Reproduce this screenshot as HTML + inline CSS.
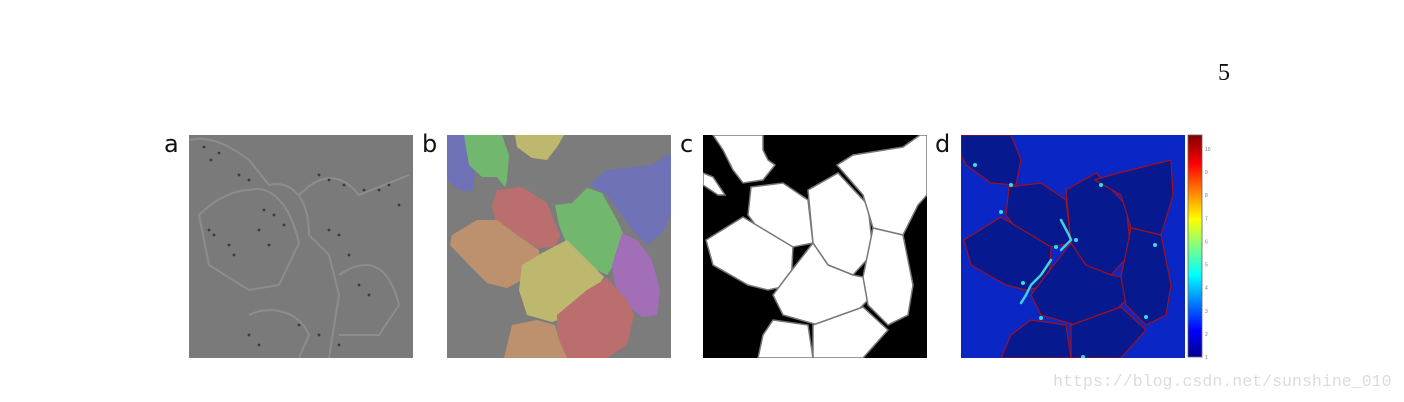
<!DOCTYPE html>
<html><head><meta charset="utf-8"><style>
body{margin:0;background:#fff;width:1404px;height:402px;overflow:hidden;position:relative;font-family:"Liberation Sans",sans-serif}
.lbl{position:absolute;font-size:24px;color:#111;font-family:"DejaVu Sans","Liberation Sans",sans-serif}
svg{position:absolute}
</style></head><body>
<div class="lbl" style="left:164px;top:130px">a</div>
<div class="lbl" style="left:422px;top:130px">b</div>
<div class="lbl" style="left:680px;top:130px">c</div>
<div class="lbl" style="left:935px;top:130px">d</div>
<div style="position:absolute;left:1218px;top:60px;font-family:'Liberation Serif',serif;font-size:24px;color:#111">5</div>
<div style="position:absolute;left:1053px;top:372px;font-family:'Liberation Mono',monospace;font-size:16.6px;color:#dcdcdc">https://blog.csdn.net/sunshine_010</div>

<svg style="left:189px;top:135px" width="224" height="223" viewBox="0 0 224 223">
<rect width="224" height="223" fill="#7a7a7a"/>
<g fill="none" stroke="#929292" stroke-width="2" opacity="0.8">
<path d="M0,5 C20,0 40,10 60,25 L80,50 C100,45 120,60 120,100 L140,120 150,160 140,223"/>
<path d="M10,80 C30,60 50,55 60,55 C80,50 100,65 110,108 L90,150 60,155 20,130Z"/>
<path d="M110,60 C130,40 150,35 170,60 L220,40"/>
<path d="M150,140 C180,120 200,130 210,170 L190,200 150,200"/>
<path d="M60,180 C80,170 110,175 120,200 L110,223"/>
</g>
<g fill="#3a3a3a" id="dots"></g>
</svg>

<svg style="left:447px;top:135px" width="224" height="223" viewBox="0 0 224 223">
<rect width="224" height="223" fill="#7c7c7c"/>
<g opacity="0.72">
<polygon fill="#6b6fcf" points="0,0 17,0 28,40 25,57 12,55 0,45"/>
<polygon fill="#6fcf6a" points="17,0 55,0 62,20 60,45 58,52 50,42 35,42 22,30"/>
<polygon fill="#d6d06a" points="68,0 117,0 110,12 100,25 85,23 70,12"/>
<polygon fill="#6b6fcf" points="142,50 160,35 205,30 222,18 224,22 224,80 215,98 200,110 185,95 175,80 160,60"/>
<polygon fill="#d26a6a" points="50,55 75,52 100,68 113,100 108,112 90,113 70,100 48,85 45,70"/>
<polygon fill="#6fcf6a" points="108,70 125,68 140,53 155,58 170,85 176,98 170,125 160,140 140,130 120,110 112,90"/>
<polygon fill="#d69a6a" points="5,100 30,85 50,85 70,100 92,115 93,130 75,145 60,153 40,148 20,128 3,110"/>
<polygon fill="#b06acf" points="175,98 190,105 205,125 213,155 210,180 195,182 180,170 168,150 165,130"/>
<polygon fill="#d6d06a" points="75,130 95,118 120,105 140,125 157,142 145,160 125,180 105,187 80,180 72,155"/>
<polygon fill="#d26a6a" points="110,180 140,155 160,143 180,165 187,180 180,210 160,223 115,223 110,200"/>
<polygon fill="#d69a6a" points="65,190 90,185 108,190 112,205 120,223 57,223"/>
</g>
</svg>

<svg style="left:703px;top:135px" width="224" height="223" viewBox="0 0 224 223">
<rect width="224" height="223" fill="#000"/>
<g fill="#fff" stroke="#777" stroke-width="1.5">
<polygon points="10,0 60,0 60,15 65,25 72,30 60,45 40,48 30,35 20,15"/>
<polygon points="0,38 10,42 22,60 15,60 0,50"/>
<polygon points="48,52 80,48 105,65 110,108 90,112 60,100 45,80"/>
<polygon points="3,105 40,82 90,112 88,150 65,155 45,150 10,130"/>
<polygon points="105,55 135,38 165,70 170,118 150,140 125,130 110,108"/>
<polygon points="134,30 150,20 200,12 217,0 224,0 224,60 215,70 200,100 170,93 160,60"/>
<polygon points="110,108 125,130 150,140 160,142 170,160 140,190 115,190 80,180 70,160 85,140"/>
<polygon points="170,93 200,100 210,150 205,180 185,190 165,170 160,142"/>
<polygon points="70,185 105,190 110,223 55,223 60,200"/>
<polygon points="110,190 160,172 185,195 160,223 110,223"/>
</g>
</svg>

<svg style="left:961px;top:135px" width="224" height="223" viewBox="0 0 224 223">
<rect width="224" height="223" fill="#0a26c4"/>
<g fill="#07198e" stroke="#a01020" stroke-width="1.2">
<polygon points="0,0 50,0 60,25 55,50 30,48 5,30 0,20"/>
<polygon points="48,52 80,48 105,65 110,108 90,112 60,100 45,80"/>
<polygon points="3,105 40,82 90,112 88,150 65,155 45,150 10,130"/>
<polygon points="105,55 135,38 165,70 170,118 150,140 125,130 110,108"/>
<polygon points="134,45 150,40 190,30 210,25 212,60 200,100 170,93 160,60"/>
<polygon points="110,108 125,130 150,140 160,142 170,160 140,190 115,190 80,180 70,160 85,140"/>
<polygon points="170,93 200,100 210,150 205,180 185,190 165,170 160,142"/>
<polygon points="70,185 105,190 110,223 40,223 50,200"/>
<polygon points="110,190 160,172 185,195 160,223 110,223"/>
</g>
<g fill="none" stroke="#40d0e0" stroke-width="2.5" stroke-linecap="round">
<polyline points="100,85 108,100 110,105 100,115"/>
<polyline points="90,125 80,140 70,150 65,160 60,168"/>
</g>
<g fill="#30e0e0">
<circle cx="14" cy="30" r="2"/><circle cx="50" cy="50" r="2"/><circle cx="40" cy="77" r="2"/>
<circle cx="95" cy="112" r="2"/><circle cx="115" cy="105" r="2"/><circle cx="140" cy="50" r="2"/>
<circle cx="194" cy="110" r="2"/><circle cx="185" cy="182" r="2"/><circle cx="80" cy="183" r="2"/><circle cx="122" cy="222" r="2"/><circle cx="62" cy="148" r="2"/>
</g>
</svg>

<svg id="cbar" style="left:1186px;top:133px" width="30" height="228" viewBox="0 0 30 228">
<defs><linearGradient id="jet" x1="0" y1="1" x2="0" y2="0">
<stop offset="0" stop-color="#00008f"/><stop offset="0.12" stop-color="#0000ff"/><stop offset="0.37" stop-color="#00ffff"/>
<stop offset="0.5" stop-color="#80ff80"/><stop offset="0.62" stop-color="#ffff00"/><stop offset="0.87" stop-color="#ff0000"/><stop offset="1" stop-color="#800000"/></linearGradient></defs>
<rect x="2" y="2" width="14" height="222" fill="url(#jet)" stroke="#666" stroke-width="0.8"/>
<g id="cbticks" font-size="5" fill="#777" font-family="Liberation Sans, sans-serif"></g>
</svg>
<script>
const cbTicks=[1,2,3,4,5,6,7,8,9,10];
const cbMin=1, cbMax=10.6;
const g=document.getElementById('cbticks');
const y=v=>224-(v-cbMin)/(cbMax-cbMin)*222;
cbTicks.forEach(t=>{
  const tx=document.createElementNS('http://www.w3.org/2000/svg','text');
  tx.setAttribute('x',19);tx.setAttribute('y',y(t)+2);tx.textContent=t;
  
  
  g.appendChild(tx);
});
const dots=document.getElementById('dots');
[[15,12],[22,25],[30,18],[50,40],[60,45],[75,75],[85,80],[95,90],[70,95],[80,110],[20,95],[25,100],[130,40],[140,45],[155,50],[175,55],[190,55],[200,50],[210,70],[140,95],[150,100],[160,120],[170,150],[180,160],[110,190],[130,200],[150,210],[60,200],[70,210],[40,110],[45,120]].forEach(p=>{
  const c=document.createElementNS('http://www.w3.org/2000/svg','circle');
  c.setAttribute('cx',p[0]);c.setAttribute('cy',p[1]);c.setAttribute('r',1.4);
  dots.appendChild(c);
});
</script>
</body></html>
